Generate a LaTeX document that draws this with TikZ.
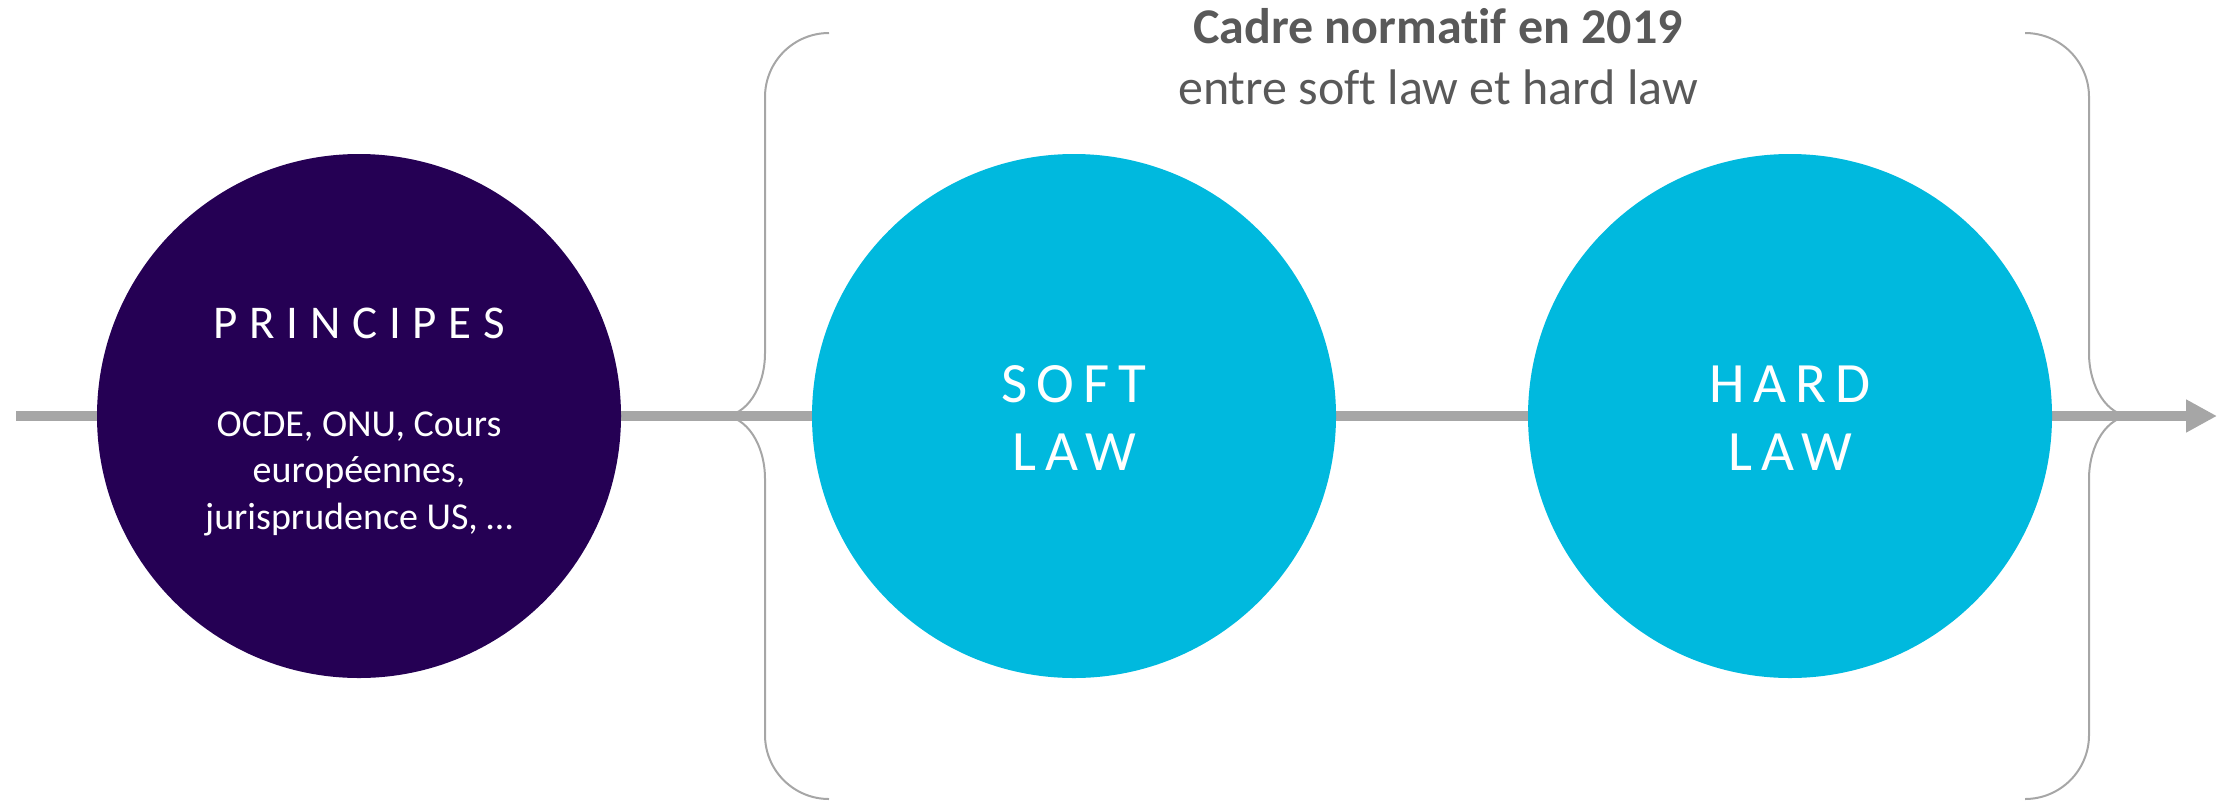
\documentclass[tikz,border=0pt]{standalone}
\usepackage{fontspec}
\setmainfont{Carlito}[Ligatures=NoCommon]
\usetikzlibrary{arrows.meta}
\definecolor{law_purple}{RGB}{37, 0, 84}
\definecolor{law_cyan}{RGB}{0, 185, 222}
\definecolor{law_grey}{RGB}{166, 166, 166}
\definecolor{law_text}{RGB}{89, 89, 89}
\tikzstyle{pn}=[circle,fill=law_purple,inner sep=0pt,minimum size=524pt]
\tikzstyle{cn}=[circle,fill=law_cyan,inner sep=0pt,minimum size=524pt]
\tikzstyle{none}=[]
\tikzstyle{axis}=[draw=law_grey,line width=10pt,-{Triangle[length=31pt,width=31pt]}]
\tikzstyle{brace}=[draw=law_grey,line width=2pt]
\tikzstyle{caps}=[text=white,anchor=base,inner sep=0pt,
  font=\fontsize{47}{56}\selectfont\addfontfeature{LetterSpace=25}]
\tikzstyle{small}=[text=white,anchor=base,inner sep=0pt,align=center,
  font=\fontsize{38}{46.5}\selectfont]
\tikzstyle{law}=[text=white,anchor=base,inner sep=0pt,align=center,
  font=\fontsize{57}{68}\selectfont\addfontfeature{LetterSpace=16}]
\tikzstyle{title}=[text=law_text,anchor=base,inner sep=0pt,align=center,
  font=\fontsize{50}{61}\selectfont]

\begin{document}
\begin{tikzpicture}[x=1pt, y=1pt]
    \useasboundingbox (0, 0) rectangle (2226, -801);
    \node [style=none] (0) at (16, -416) {};
    \node [style=none] (1) at (2217, -416) {};
    \draw [style=axis] (0.center) to (1.center);
    \node [style=pn] (2) at (359, -416) {};
    \node [style=cn] (3) at (1074, -416) {};
    \node [style=cn] (4) at (1790, -416) {};
    \node [style=caps] (5) at (359, -338) {PRINCIPES};
    \node [style=small] (6) at (359, -529) {OCDE, ONU, Cours\\européennes,\\jurisprudence US, …};
    \node [style=law] (7) at (1074, -470) {SOFT\\LAW};
    \node [style=law] (8) at (1790, -470) {HARD\\LAW};
    \node [style=title] (9) at (1438, -104) {\textbf{Cadre normatif en 2019}\\entre soft law et hard law};
    % accolades
    \draw [style=brace] (829, -33) arc[start angle=90, end angle=180, radius=64]
      -- (765, -353) arc[start angle=0, end angle=-90, x radius=42, y radius=63]
      arc[start angle=90, end angle=0, x radius=42, y radius=63]
      -- (765, -735) arc[start angle=180, end angle=270, radius=64];
    \draw [style=brace] (2025, -33) arc[start angle=90, end angle=0, radius=64]
      -- (2089, -353) arc[start angle=180, end angle=270, x radius=42, y radius=63]
      arc[start angle=90, end angle=180, x radius=42, y radius=63]
      -- (2089, -735) arc[start angle=0, end angle=-90, radius=64];
\end{tikzpicture}
\end{document}
